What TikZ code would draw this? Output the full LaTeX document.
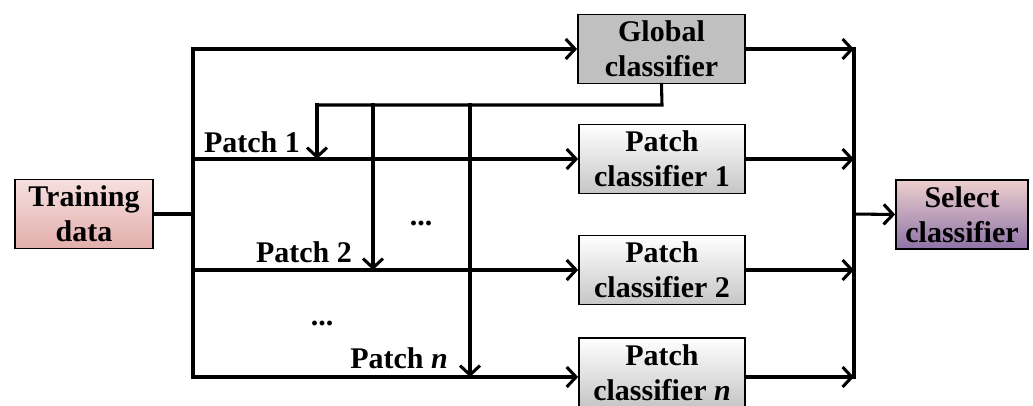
\documentclass[tikz,border=0pt]{standalone}
\usepackage{fontspec}
\setmainfont{Liberation Serif}
\usetikzlibrary{arrows.meta}
\definecolor{trtop}{HTML}{F6E0DF}
\definecolor{trbot}{HTML}{E2AEAB}
\definecolor{seltop}{HTML}{EDCFCE}
\definecolor{selbot}{HTML}{8E73A6}
\definecolor{pbot}{HTML}{C6C6C6}
\definecolor{gfill}{HTML}{C0C0C0}
\tikzset{
  box/.style={draw=black, line width=1.3pt, minimum width=#1*0.75pt, minimum height=69*0.75pt,
    inner sep=0pt, align=center, font=\fontsize{22.5}{26.5}\selectfont\bfseries},
  trainbox/.style={box=138, top color=trtop, bottom color=trbot},
  selbox/.style={box=132, top color=seltop, bottom color=selbot},
  patchbox/.style={box=166, top color=white, bottom color=pbot},
  globbox/.style={box=167, fill=gfill},
  conn/.style={line width=2.3pt, line cap=rect},
  arr/.style={conn, -{Straight Barb[length=7pt, width=15pt, line width=2.3pt]}},
  lbl/.style={inner sep=0pt, anchor=base, font=\fontsize{22.5}{26.5}\selectfont\bfseries}
}
\begin{document}
\begin{tikzpicture}[x=0.75pt,y=-0.75pt]
\useasboundingbox (0,0) rectangle (1033,405);
\begin{scope}
\clip (0,0) rectangle (1033,405);
% nodes
\node[trainbox] (train) at (84,214) {Training\\data};
\node[globbox] (glob) at (661.5,49) {Global\\classifier};
\node[patchbox] (p1) at (662,159) {Patch\\classifier 1};
\node[patchbox] (p2) at (662,270) {Patch\\classifier 2};
\node[patchbox] (pn) at (662,372.5) {Patch\\classifier \textit{n}};
\node[selbox] (sel) at (962,214.5) {Select\\classifier};
% bus coordinates
\coordinate (LT) at (193,49);
\coordinate (LM) at (193,214);
\coordinate (L1) at (193,159);
\coordinate (L2) at (193,270);
\coordinate (LB) at (193,377);
\coordinate (RT) at (854,49);
\coordinate (RM) at (854,214);
\coordinate (RB) at (854,377);
\coordinate (F0) at (662,105);
\coordinate (F1) at (317,105);
\coordinate (F2) at (373,105);
\coordinate (F3) at (470,105);
% left side
\draw[conn] (train.east) -- (LM);
\draw[conn] (LT) -- (LB);
\draw[arr] (LT) -- (glob.west);
\draw[arr] (L1) -- (L1 -| p1.west);
\draw[arr] (L2) -- (L2 -| p2.west);
\draw[arr] (LB) -- (LB -| pn.west);
% feedback from global classifier
\draw[conn] (glob.south) -- (F0) -- (F1);
\draw[arr] (F1) -- (F1 |- L1);
\draw[arr] (F2) -- (F2 |- L2);
\draw[arr] (F3) -- (F3 |- LB);
% right side
\draw[conn] (RT) -- (RB);
\draw[arr] (glob.east) -- (RT);
\draw[arr] (p1.east) -- (p1.east -| RT);
\draw[arr] (p2.east) -- (p2.east -| RT);
\draw[arr] (pn.east |- RB) -- (RB);
\draw[arr, line cap=butt] (RM) -- (sel.west);
% labels
\node[lbl] (lp1) at (252,152) {Patch 1};
\node[lbl] (lp2) at (304,262) {Patch 2};
\node[lbl] (lpn) at (399,368) {Patch \textit{n}};
\node[lbl] (d1) at (421,225) {...};
\node[lbl] (d2) at (322,325) {...};
\end{scope}
\end{tikzpicture}
\end{document}
